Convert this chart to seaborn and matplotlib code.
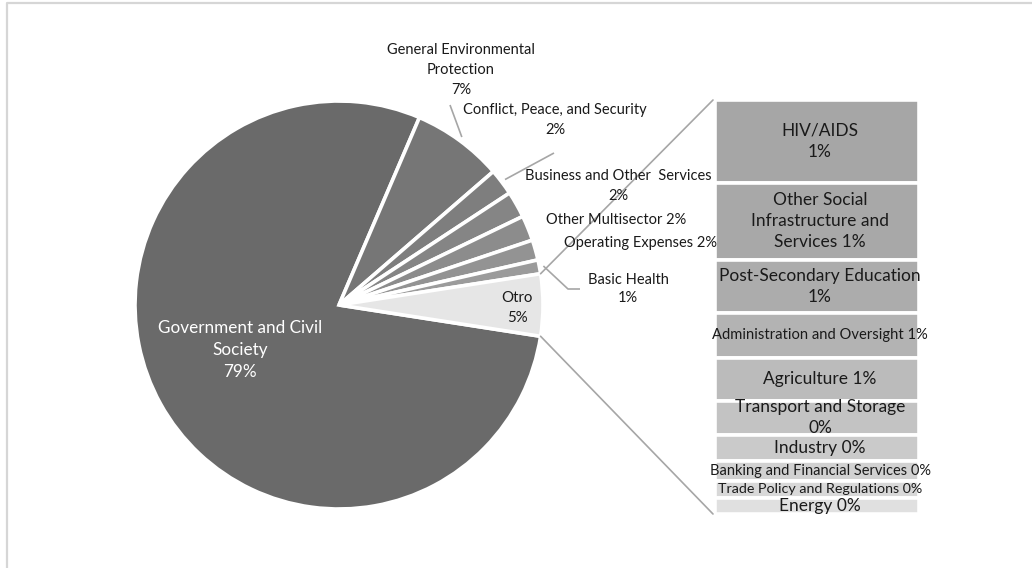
import numpy as np
import matplotlib
matplotlib.use("Agg")
import matplotlib.pyplot as plt
import seaborn as sns

# ---- data -------------------------------------------------------------
pie_names = [
    "Government and Civil\nSociety",
    "General Environmental\nProtection",
    "Conflict, Peace, and Security",
    "Business and Other  Services",
    "Other Multisector",
    "Operating Expenses",
    "Basic Health",
]
pie_values = [79.0, 7.2, 2.1, 2.1, 2.0, 1.6, 1.1]

other_name = "Otro"
bar_names = [
    "HIV/AIDS",
    "Other Social\nInfrastructure and\nServices",
    "Post-Secondary Education",
    "Administration and Oversight",
    "Agriculture",
    "Transport and Storage",
    "Industry",
    "Banking and Financial Services",
    "Trade Policy and Regulations",
    "Energy",
]
bar_values = [0.98, 0.91, 0.63, 0.53, 0.51, 0.40, 0.31, 0.24, 0.20, 0.19]

# ---- style ------------------------------------------------------------
sns.set_theme(style="white")
plt.rcParams["font.family"] = ["Lato", "DejaVu Sans"]

pie_colors = ["#6a6a6a", "#767676", "#7e7e7e", "#858585",
              "#8c8c8c", "#939393", "#9b9b9b", "#e6e6e6"]
bar_colors = ["#a6a6a6", "#a8a8a8", "#acacac", "#b3b3b3", "#bbbbbb",
              "#c3c3c3", "#cacaca", "#d1d1d1", "#d8d8d8", "#e0e0e0"]
line_gray = "#a6a6a6"
text_dark = "#1a1a1a"

W, H = 1032, 568
fig = plt.figure(figsize=(W / 100, H / 100), dpi=100)
ax = fig.add_axes([0, 0, 1, 1])


def py(y):
    """Pixel row (from the top) to axis y."""
    return H - y


# ---- pie with the small categories folded into "Otro" ------------------
other_value = float(np.sum(bar_values))
values = pie_values + [other_value]
total = float(np.sum(values))
other_deg = other_value / total * 360.0

cx, cy, R = 339, py(305), 204
wedges, _ = ax.pie(values, colors=pie_colors, startangle=-other_deg / 2,
                   counterclock=False, center=(cx, cy), radius=R,
                   wedgeprops=dict(edgecolor="white", linewidth=2.6),
                   normalize=True)


def fmt(v):
    return f"{v:.0f}%"


# label text and placement (separator between name and value)
seps = ["\n", "\n", "\n", "\n", " ", " ", "\n", "\n"]
label_pos = [(240, 350), (461, 70), (555, 120), (618, 186),
             (616, 220), (640, 243), (628, 289), (517, 308)]
label_sizes = [12.3, 10.5, 10.5, 10.5, 10.5, 10.5, 10.5, 10.8]
label_spacing = [1.46, 1.56, 1.56, 1.56, 1.56, 1.56, 1.4, 1.5]
names_all = pie_names + [other_name]
for i, (name, v) in enumerate(zip(names_all, values)):
    x, y = label_pos[i]
    color = "white" if i == 0 else text_dark
    ax.text(x, py(y), name + seps[i] + fmt(v), ha="center", va="center",
            color=color, fontsize=label_sizes[i],
            linespacing=label_spacing[i])


def rim(w, frac=1.02):
    ang = np.deg2rad((w.theta1 + w.theta2) / 2)
    return cx + R * frac * np.cos(ang), cy + R * frac * np.sin(ang)


# leader lines
leaders = {1: [(450, 105)], 2: [(554, 153)], 6: [(568, 289), (580, 289)]}
for idx, pts in leaders.items():
    x0, y0 = rim(wedges[idx])
    xs = [x0] + [p[0] for p in pts]
    ys = [y0] + [py(p[1]) for p in pts]
    ax.plot(xs, ys, color=line_gray, lw=1.2, solid_capstyle="butt")

# ---- stacked bar breaking down "Otro" ----------------------------------
bar_left, bar_right = 715, 919
bar_top, bar_bottom = 100, 514
scale = (bar_bottom - bar_top) / other_value
heights = np.array(bar_values) * scale
tops = py(bar_top) - np.concatenate([[0], np.cumsum(heights)[:-1]])
bottoms = tops - heights
ax.bar(x=np.full(len(bar_values), (bar_left + bar_right) / 2),
       height=heights, bottom=bottoms, width=bar_right - bar_left,
       color=bar_colors, edgecolor="white", linewidth=2.6)

bar_seps = ["\n", " ", "\n", " ", " ", "\n", " ", " ", " ", " "]
bar_sizes = [12.5, 12.5, 12.5, 10.6, 12.5, 12.5, 12.5, 10.5, 10.3, 12.5]
for name, v, b, h, s, fs in zip(bar_names, bar_values, bottoms, heights,
                                bar_seps, bar_sizes):
    ax.text((bar_left + bar_right) / 2 + 3, b + h / 2, name + s + fmt(v),
            ha="center", va="center", color=text_dark, fontsize=fs,
            linespacing=1.4)

# connector lines from the "Otro" wedge to the bar
ow = wedges[-1]
for ang, ybar in [(ow.theta1 if ow.theta1 > 0 else ow.theta2, bar_top),
                  (ow.theta2 if ow.theta1 > 0 else ow.theta1, bar_bottom)]:
    a = np.deg2rad(ang)
    ax.plot([cx + R * np.cos(a), bar_left - 2],
            [cy + R * np.sin(a), py(ybar)],
            color=line_gray, lw=1.2)

# chart-area frame
ax.plot([7, 7, W], [0, py(3), py(3)], color="#d6d6d6", lw=1.6)

ax.set_xlim(0, W)
ax.set_ylim(0, H)
ax.set_aspect("auto")
ax.axis("off")
fig.savefig("out.png", dpi=100, facecolor="white")
